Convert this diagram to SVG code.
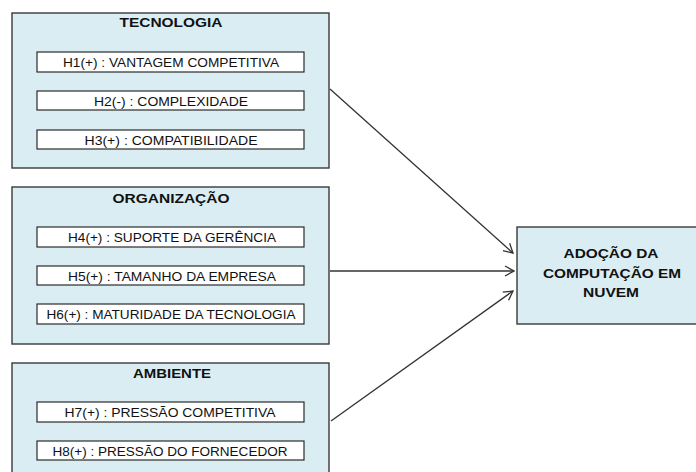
<svg xmlns="http://www.w3.org/2000/svg" width="696" height="472" viewBox="0 0 696 472">
  <style>
    .group { fill: #daedf3; stroke: #3a3a3a; stroke-width: 1.4; }
    .item { fill: #ffffff; stroke: #2a2a2a; stroke-width: 1.2; }
    .title { font-family: "Liberation Sans", Arial, sans-serif; font-weight: bold; font-size: 12.5px; fill: #111; text-anchor: middle; }
    .big { font-size: 13.5px; }
    .label { font-family: "Liberation Sans", Arial, sans-serif; font-size: 13px; fill: #111; text-anchor: middle; }
    .edge { stroke: #333; stroke-width: 1.3; fill: none; marker-end: url(#arrow); }
  </style>
  <defs>
    <marker id="arrow" viewBox="0 0 12 12" refX="11" refY="6" markerWidth="12" markerHeight="12" markerUnits="userSpaceOnUse" orient="auto">
      <path d="M2,1 L11,6 L2,11" fill="none" stroke="#333" stroke-width="1.3"/>
    </marker>
  </defs>

  <g id="tecnologia">
    <rect class="group" x="12" y="13" width="317" height="155"/>
    <text class="title" x="171" y="27" textLength="103" lengthAdjust="spacingAndGlyphs">TECNOLOGIA</text>
    <rect class="item" x="37" y="52" width="267" height="20"/>
    <text class="label" x="171" y="66.5" textLength="216" lengthAdjust="spacingAndGlyphs">H1(+) : VANTAGEM COMPETITIVA</text>
    <rect class="item" x="37" y="91" width="267" height="19"/>
    <text class="label" x="171" y="105.5" textLength="154" lengthAdjust="spacingAndGlyphs">H2(-) : COMPLEXIDADE</text>
    <rect class="item" x="37" y="130" width="267" height="19"/>
    <text class="label" x="171" y="144.5" textLength="173" lengthAdjust="spacingAndGlyphs">H3(+) : COMPATIBILIDADE</text>
  </g>

  <g id="organizacao">
    <rect class="group" x="12" y="187" width="317" height="157"/>
    <text class="title" x="171" y="203" textLength="117" lengthAdjust="spacingAndGlyphs">ORGANIZAÇÃO</text>
    <rect class="item" x="37" y="227" width="267" height="20"/>
    <text class="label" x="172" y="241.5" textLength="208" lengthAdjust="spacingAndGlyphs">H4(+) : SUPORTE DA GERÊNCIA</text>
    <rect class="item" x="37" y="266" width="267" height="19"/>
    <text class="label" x="172" y="280.5" textLength="208" lengthAdjust="spacingAndGlyphs">H5(+) : TAMANHO DA EMPRESA</text>
    <rect class="item" x="37" y="304" width="267" height="20"/>
    <text class="label" x="171" y="318.5" textLength="249" lengthAdjust="spacingAndGlyphs">H6(+) : MATURIDADE DA TECNOLOGIA</text>
  </g>

  <g id="ambiente">
    <rect class="group" x="12" y="363" width="317" height="120"/>
    <text class="title" x="172" y="378" textLength="78" lengthAdjust="spacingAndGlyphs">AMBIENTE</text>
    <rect class="item" x="37" y="402" width="267" height="20"/>
    <text class="label" x="170" y="416.5" textLength="211" lengthAdjust="spacingAndGlyphs">H7(+) : PRESSÃO COMPETITIVA</text>
    <rect class="item" x="37" y="441" width="267" height="19"/>
    <text class="label" x="170" y="455.5" textLength="235" lengthAdjust="spacingAndGlyphs">H8(+) : PRESSÃO DO FORNECEDOR</text>
  </g>

  <g id="adocao">
    <rect class="group" x="517" y="227" width="182" height="97"/>
    <text class="title big" x="611" y="258" textLength="95" lengthAdjust="spacingAndGlyphs">ADOÇÃO DA</text>
    <text class="title big" x="612" y="278" textLength="138" lengthAdjust="spacingAndGlyphs">COMPUTAÇÃO EM</text>
    <text class="title big" x="611" y="297" textLength="56" lengthAdjust="spacingAndGlyphs">NUVEM</text>
  </g>

  <g id="connectors">
    <line class="edge" x1="330" y1="89" x2="513" y2="253"/>
    <line class="edge" x1="330" y1="271" x2="514" y2="271"/>
    <line class="edge" x1="331" y1="421" x2="513" y2="291"/>
  </g>
</svg>
